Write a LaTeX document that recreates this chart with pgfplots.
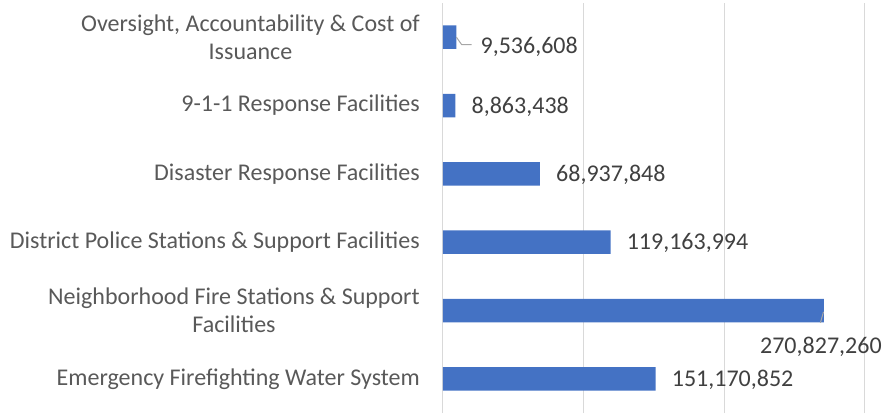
\documentclass[border=0pt]{standalone}
\usepackage{fontspec}
\setmainfont{Carlito}
\usepackage{pgfplots}
\usepackage{pgfplotstable}
\pgfplotsset{compat=1.18}
\definecolor{barblue}{HTML}{4472C4}
\definecolor{gridgray}{HTML}{D9D9D9}
\definecolor{catgray}{HTML}{595959}
\definecolor{datagray}{HTML}{404040}
\definecolor{leadgray}{HTML}{A6A6A6}
\pgfplotstableread{
y val label dx dy
0 151170852 151,170,852 16 -7.5
1 270827260 270,827,260 -64 -42.5
2 119163994 119,163,994 16 -7.5
3 68937848 68,937,848 16 -7.5
4 8863438 8,863,438 16 -7.5
5 9536608 9,536,608 24 -16.5
}\datatable
\begin{document}
\begin{tikzpicture}[font=\fontsize{24bp}{28bp}\selectfont]
\begin{axis}[
  scale only axis,
  width=422bp, height=410bp,
  xmin=0, xmax=300000000,
  ymin=-0.5, ymax=5.5,
  clip=false,
  axis x line*=bottom, axis y line*=left,
  x axis line style={draw=none},
  y axis line style={draw=gridgray, line width=1bp},
  xtick={0,100000000,200000000,300000000},
  xticklabels={}, scaled x ticks=false,
  xticklabel style={inner sep=0pt, outer sep=0pt, font=\tiny},
  xmajorgrids, major grid style={draw=gridgray, line width=1bp},
  major tick length=0pt,
  ytick={0,1,2,3,4,5},
  yticklabels={{Emergency Firefighting Water System},{Neighborhood Fire Stations \& Support\\Facilities},{District Police Stations \& Support Facilities},{Disaster Response Facilities},{9-1-1 Response Facilities},{Oversight, Accountability \& Cost of\\Issuance}},
  yticklabel style={align=center, text=catgray, inner sep=0pt, xshift=-23bp, font=\fontsize{24bp}{28bp}\selectfont},
]
\addplot[xbar, bar width=23.5bp, fill=barblue, draw=none,
  point meta=explicit symbolic,
  visualization depends on={\thisrow{dx} \as \dx},
  visualization depends on={\thisrow{dy} \as \dy},
  nodes near coords,
  nodes near coords style={anchor=base west, inner sep=0pt, text=datagray,
    xshift=\dx bp, yshift=\dy bp, font=\fontsize{24bp}{28bp}\selectfont},
] table[x=val, y=y, meta=label] {\datatable};
\addplot[leadgray, line width=1bp, mark=none] coordinates {(9536608,5) (13300000,4.89) (20400000,4.89)};
\addplot[leadgray, line width=1bp, mark=none] coordinates {(270500000,0.98) (268300000,0.82)};
\end{axis}
\pgfresetboundingbox
\path (current axis.south west) ++(-443bp,-1bp) rectangle ++(883bp,414bp);
\end{tikzpicture}
\end{document}
